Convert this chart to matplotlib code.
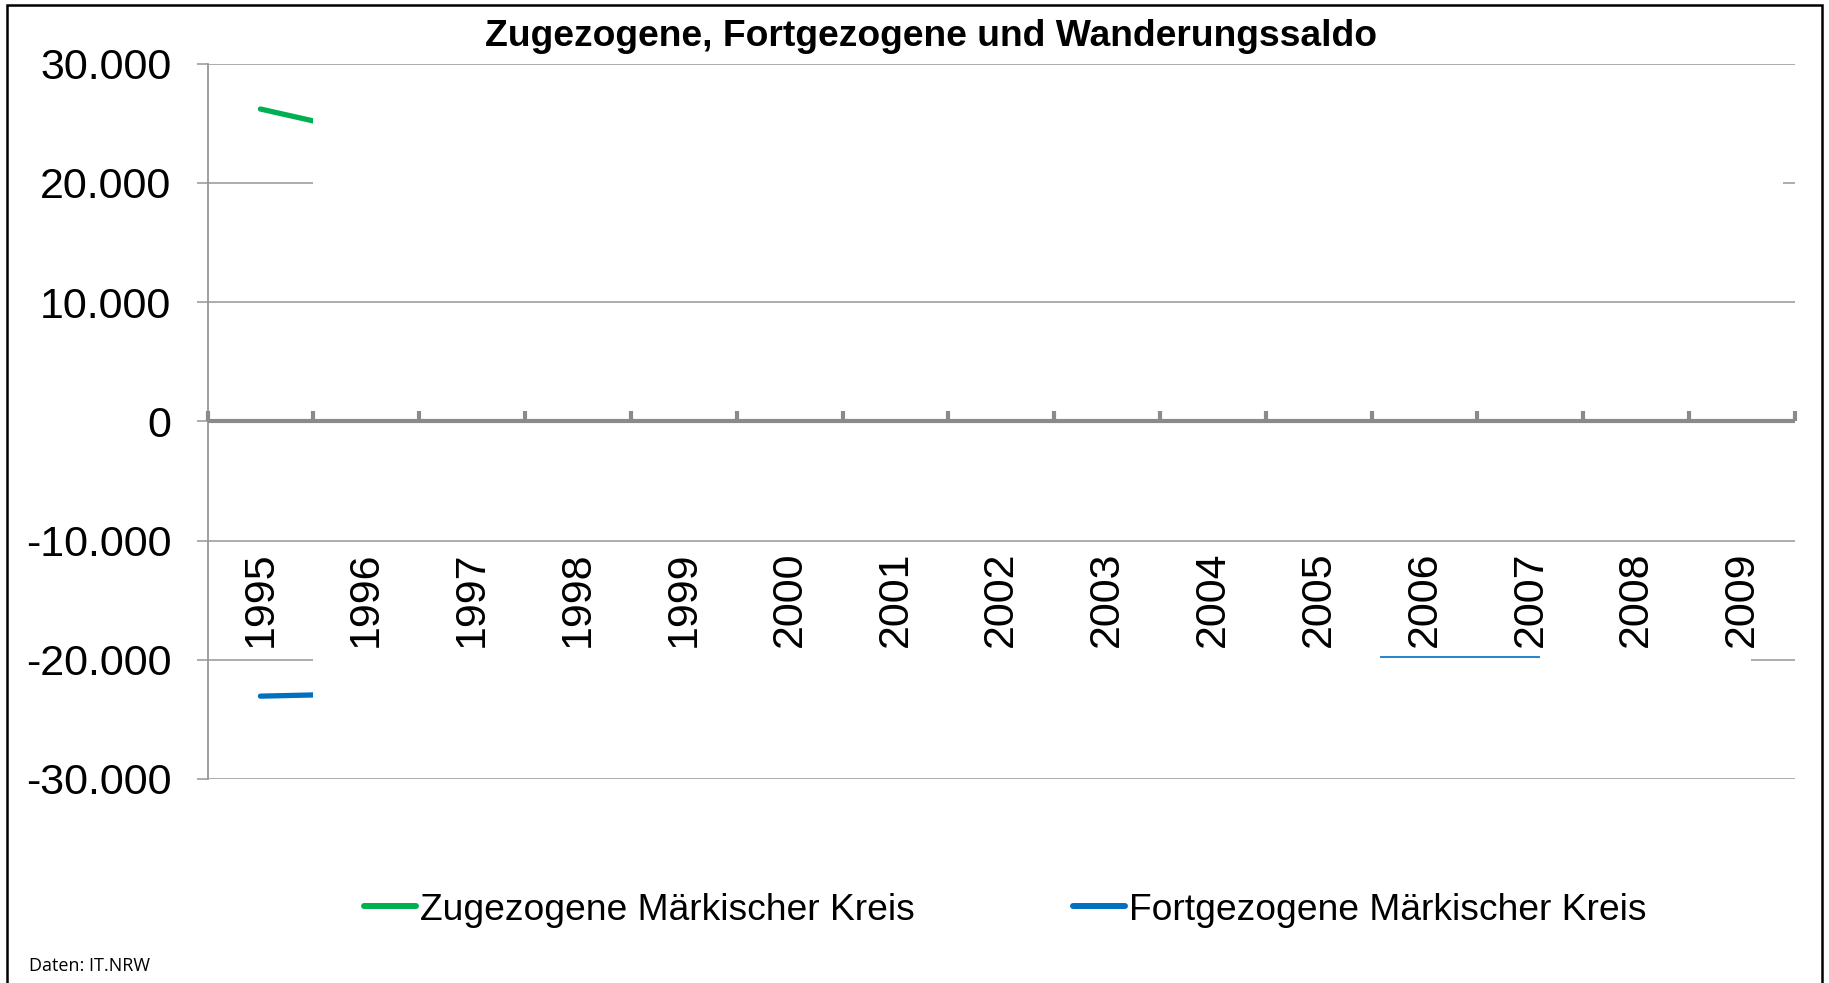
import matplotlib
matplotlib.use("Agg")
import matplotlib.pyplot as plt
from matplotlib.patches import Rectangle

# ---- data ----
years = [str(y) for y in range(1995, 2010)]
y_ticks = [30000, 20000, 10000, 0, -10000, -20000, -30000]
y_tick_labels = ["30.000", "20.000", "10.000", "0", "-10.000", "-20.000", "-30.000"]

# visible parts of the series (only the first segment is readable)
zug_pos = [1, 2]
zug_vals = [26200, 24200]
fort_pos = [1, 2]
fort_vals = [-23050, -22850]
# thin blue fragment near 2006/2007
frag_pos = [11.58, 13.09]
frag_vals = [-19750, -19750]

GREEN = "#00B050"
BLUE = "#0070C0"
GRID = "#969696"
AXIS = "#8a8a8a"

W, H = 1829, 983
fig = plt.figure(figsize=(W / 100, H / 100), dpi=100)
plt.rcParams["font.family"] = ["Liberation Sans", "DejaVu Sans"]

ax = fig.add_axes([207.5 / W, 1 - 779 / H, (1795 - 207.5) / W, (779 - 63.7) / H])
ax.set_xlim(0.5, 15.5)
ax.set_ylim(-30000, 30000)
for s in ax.spines.values():
    s.set_visible(False)

# gridlines (full and partial, as visible in the reference)
full_grid = [30000, 10000, -10000, -30000]
for g in full_grid:
    ax.plot([0.5, 15.5], [g, g], color=GRID, lw=1.1, zorder=1, solid_capstyle="butt")
partial_grid = [(20000, [(0.5, 1.5), (15.39, 15.5)]),
                (-20000, [(0.5, 1.5), (15.08, 15.5)])]
for g, segs in partial_grid:
    for a, b in segs:
        ax.plot([a, b], [g, g], color=GRID, lw=1.1, zorder=1, solid_capstyle="butt")

# y axis line
ax.plot([0.5, 0.5], [-30000, 30000], color=GRID, lw=1.3, zorder=2, clip_on=False)
# zero axis (thick) with category tick marks
ax.axhline(0, color=AXIS, lw=3.0, zorder=3)
ax.set_yticks(y_ticks)
ax.set_yticklabels(y_tick_labels, fontsize=31)
ax.tick_params(axis="y", length=8, width=1.1, color=GRID, pad=18)
ax.set_xticks([])
for b in range(16):
    ax.plot([b + 0.5, b + 0.5], [0, 900], color=AXIS, lw=3.0, zorder=3,
            solid_capstyle="butt", clip_on=False)

# year labels
for i, yr in enumerate(years):
    ax.text(i + 1, -10900, yr, rotation=90, ha="center", va="top", fontsize=31, zorder=5)

# series lines (only visible first half-segment)
clip = Rectangle((0.5, -30000), 1.0, 60000, transform=ax.transData)
l1, = ax.plot(zug_pos, zug_vals, color=GREEN, lw=3.8, solid_capstyle="round", zorder=4)
l2, = ax.plot(fort_pos, fort_vals, color=BLUE, lw=3.8, solid_capstyle="round", zorder=4)
l1.set_clip_path(clip)
l2.set_clip_path(clip)
ax.plot(frag_pos, frag_vals, color=BLUE, lw=1.2, zorder=4, solid_capstyle="butt")

# title
fig.text(0.509, 1 - 36 / H, "Zugezogene, Fortgezogene und Wanderungssaldo",
         ha="center", va="center", fontsize=26.8, fontweight="bold")

# legend
h1, = ax.plot([], [], color=GREEN, lw=4.3, solid_capstyle="round")
h2, = ax.plot([], [], color=BLUE, lw=4.3, solid_capstyle="round")
fig.legend([h1, h2], ["Zugezogene Märkischer Kreis", "Fortgezogene Märkischer Kreis"],
           loc="center", bbox_to_anchor=(0.5495, 1 - 910 / H), ncol=2, frameon=False,
           fontsize=26.8, handlelength=1.4, handletextpad=0.1, columnspacing=4.25)

# source note
fig.text(29 / W, 1 - 966 / H, "Daten: IT.NRW", ha="left", va="center", fontsize=13,
         family=["Open Sans", "DejaVu Sans"])

# outer frame
fig.patches.append(Rectangle((7 / W, -0.05), (1822 - 7) / W, 1 - 5 / H + 0.05,
                             transform=fig.transFigure, fill=False, edgecolor="black",
                             lw=1.8, zorder=10))

fig.savefig("out.png", dpi=100)
